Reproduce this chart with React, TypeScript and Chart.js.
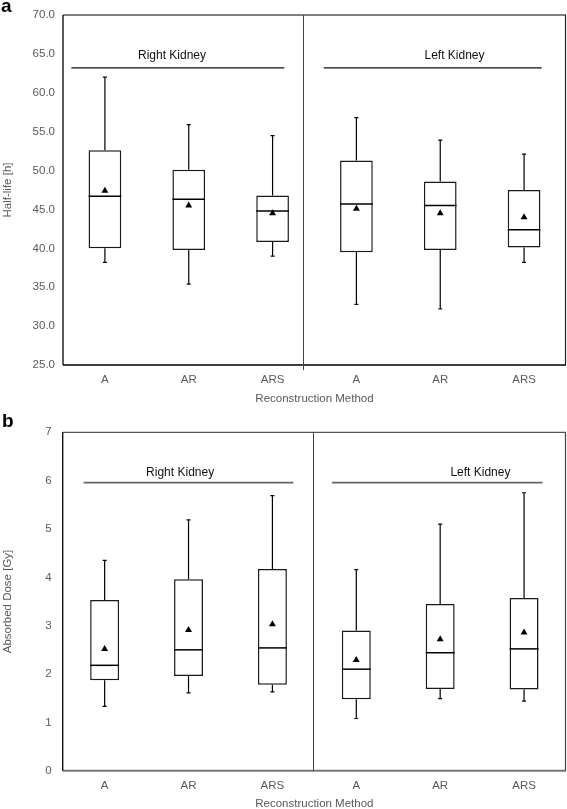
import React, { useEffect, useRef } from 'react';
import { Chart, registerables } from 'chart.js';

Chart.register(...registerables);

// ---------- data ----------
const methods = ['A', 'AR', 'ARS', 'A', 'AR', 'ARS'];
const groupNames = ['Right Kidney', 'Left Kidney'];
const xAxisTitle = 'Reconstruction Method';

// Panel a: Half-life [h]
const halfMin = [38.2, 35.4, 39.0, 32.8, 32.2, 38.2];
const halfQ1 = [40.0, 39.8, 40.8, 39.5, 39.8, 40.1];
const halfMedian = [46.7, 46.3, 44.8, 45.7, 45.5, 42.4];
const halfQ3 = [52.6, 50.1, 46.8, 51.3, 48.6, 47.5];
const halfMax = [62.0, 55.9, 54.5, 56.8, 53.9, 52.1];
const halfMean = [47.4, 45.5, 44.5, 45.1, 44.5, 44.0];

// Panel b: Absorbed Dose [Gy]
const doseMin = [1.33, 1.61, 1.63, 1.08, 1.49, 1.44];
const doseQ1 = [1.87, 1.96, 1.78, 1.48, 1.69, 1.68];
const doseMedian = [2.18, 2.5, 2.54, 2.1, 2.44, 2.52];
const doseQ3 = [3.53, 3.96, 4.17, 2.9, 3.45, 3.57];
const doseMax = [4.35, 5.19, 5.69, 4.16, 5.1, 5.75];
const doseMean = [2.52, 2.91, 3.03, 2.29, 2.72, 2.86];

// ---------- panel configs ----------
const FONT = "'Liberation Sans', Arial, Helvetica, sans-serif";
const GRAY = '#595959';

type Panel = {
  min: number[]; q1: number[]; median: number[]; q3: number[]; max: number[]; mean: number[];
  yMin: number; yMax: number; yStep: number; decimals: number; yTitle: string;
  top: number; height: number; padTop: number; xAxisH: number; yAxisW: number;
  yTickPad: number; xTickPad: number; xTitlePadBottom: number;
  barPct: number;
  groupLineY: number; groupTextY: number; groupSpans: [number, number][]; groupTextX: number[];
  groupLineColor: string; groupLineWidth: number;
  divider: number; dividerExtend: number;
  frame: { top: string; left: string; bottom: string; right: string; topW: number; bottomW: number };
};

const panelA: Panel = {
  min: halfMin, q1: halfQ1, median: halfMedian, q3: halfQ3, max: halfMax, mean: halfMean,
  yMin: 25, yMax: 70, yStep: 5, decimals: 1, yTitle: 'Half-life [h]',
  top: 0, height: 410, padTop: 15, xAxisH: 45, yAxisW: 63,
  yTickPad: 8, xTickPad: 7.5, xTitlePadBottom: 4,
  barPct: 0.39,
  groupLineY: 63.2, groupTextY: 64.8,
  groupSpans: [[-0.4, 2.14], [2.61, 5.21]], groupTextX: [0.8, 4.17],
  groupLineColor: '#111', groupLineWidth: 1.2,
  divider: 2.36, dividerExtend: 5,
  frame: { top: '#808080', left: '#000', bottom: '#000', right: '#222', topW: 2, bottomW: 1.3 },
};

const panelB: Panel = {
  min: doseMin, q1: doseQ1, median: doseMedian, q3: doseQ3, max: doseMax, mean: doseMean,
  yMin: 0, yMax: 7, yStep: 1, decimals: 0, yTitle: 'Absorbed Dose [Gy]',
  top: 410, height: 399, padTop: 22.3, xAxisH: 38.3, yAxisW: 62.7,
  yTickPad: 11, xTickPad: 8.5, xTitlePadBottom: -1.5,
  barPct: 0.345,
  groupLineY: 5.96, groupTextY: 6.16,
  groupSpans: [[-0.25, 2.25], [2.71, 5.22]], groupTextX: [0.9, 4.48],
  groupLineColor: '#666', groupLineWidth: 1.6,
  divider: 2.48, dividerExtend: 0,
  frame: { top: '#555', left: '#000', bottom: '#777', right: '#444', topW: 1.2, bottomW: 2 },
};

function makePlugin(p: Panel) {
  return {
    id: 'boxExtras',
    afterDatasetDraw(chart: any, args: any) {
      if (args.index !== 0) return;
      const { ctx } = chart;
      const xs = chart.scales.x;
      const ys = chart.scales.y;
      const meta = chart.getDatasetMeta(0);
      ctx.save();
      ctx.strokeStyle = '#000';
      p.min.forEach((_, i) => {
        const x = xs.getPixelForValue(i);
        const w = meta.data[i].width;
        const yMin = ys.getPixelForValue(p.min[i]);
        const yQ1 = ys.getPixelForValue(p.q1[i]);
        const yQ3 = ys.getPixelForValue(p.q3[i]);
        const yMax = ys.getPixelForValue(p.max[i]);
        const yMed = ys.getPixelForValue(p.median[i]);
        ctx.lineWidth = 1.2;
        ctx.beginPath();
        ctx.moveTo(x, yQ3); ctx.lineTo(x, yMax);
        ctx.moveTo(x - 2, yMax); ctx.lineTo(x + 2, yMax);
        ctx.moveTo(x, yQ1); ctx.lineTo(x, yMin);
        ctx.moveTo(x - 2, yMin); ctx.lineTo(x + 2, yMin);
        ctx.stroke();
        ctx.lineWidth = 1.5;
        ctx.beginPath();
        ctx.moveTo(x - w / 2, yMed); ctx.lineTo(x + w / 2, yMed);
        ctx.stroke();
      });
      ctx.restore();
    },
    afterDraw(chart: any) {
      const { ctx, chartArea: a } = chart;
      const xs = chart.scales.x;
      const ys = chart.scales.y;
      ctx.save();
      const seg = (x1: number, y1: number, x2: number, y2: number, c: string, w: number) => {
        ctx.beginPath(); ctx.strokeStyle = c; ctx.lineWidth = w;
        ctx.moveTo(x1, y1); ctx.lineTo(x2, y2); ctx.stroke();
      };
      // frame
      seg(a.left, a.top, a.right, a.top, p.frame.top, p.frame.topW);
      seg(a.left, a.bottom, a.right, a.bottom, p.frame.bottom, p.frame.bottomW);
      seg(a.left, a.top, a.left, a.bottom, p.frame.left, 1.3);
      seg(a.right - 0.5, a.top, a.right - 0.5, a.bottom, p.frame.right, 1.2);
      // divider between kidneys
      const dx = Math.round(xs.getPixelForValue(p.divider)) + 0.5;
      seg(dx, a.top, dx, a.bottom + p.dividerExtend, '#444', 1);
      // group labels
      const gy = ys.getPixelForValue(p.groupLineY);
      p.groupSpans.forEach(([s, e]) => {
        seg(xs.getPixelForValue(s), gy, xs.getPixelForValue(e), gy, p.groupLineColor, p.groupLineWidth);
      });
      ctx.fillStyle = '#111';
      ctx.font = `12px ${FONT}`;
      ctx.textAlign = 'center';
      ctx.textBaseline = 'middle';
      const ty = ys.getPixelForValue(p.groupTextY);
      groupNames.forEach((g, i) => ctx.fillText(g, xs.getPixelForValue(p.groupTextX[i]), ty));
      ctx.restore();
    },
  };
}

function BoxChart({ p }: { p: Panel }) {
  const ref = useRef<HTMLCanvasElement>(null);
  useEffect(() => {
    const chart = new Chart(ref.current as HTMLCanvasElement, {
      type: 'bar',
      data: {
        labels: methods,
        datasets: [
          {
            type: 'bar',
            data: p.q1.map((v, i) => [v, p.q3[i]]) as any,
            backgroundColor: '#ffffff',
            borderColor: '#1a1a1a',
            borderWidth: 1.5,
            borderSkipped: false,
            barPercentage: p.barPct,
            categoryPercentage: 1,
            order: 1,
          } as any,
          {
            type: 'line',
            data: p.mean,
            showLine: false,
            pointStyle: 'triangle',
            pointRadius: 4,
            pointBackgroundColor: '#000',
            pointBorderColor: '#000',
            pointBorderWidth: 0,
            order: 0,
          } as any,
        ],
      },
      options: {
        responsive: false,
        animation: false,
        devicePixelRatio: 1,
        layout: { autoPadding: false, padding: { top: p.padTop, right: 1, left: 0, bottom: 0 } },
        plugins: { legend: { display: false }, tooltip: { enabled: false } },
        scales: {
          x: {
            type: 'category',
            offset: true,
            grid: { display: false, drawTicks: false },
            border: { display: false },
            ticks: { color: GRAY, font: { family: FONT, size: 11.5 }, padding: p.xTickPad, maxRotation: 0, autoSkip: false },
            title: {
              display: true, text: xAxisTitle, color: GRAY,
              font: { family: FONT, size: 11.5 }, padding: { top: 0, bottom: p.xTitlePadBottom },
            },
            afterFit: (s: any) => { s.height = p.xAxisH; },
          },
          y: {
            min: p.yMin,
            max: p.yMax,
            grid: { display: false, drawTicks: false },
            border: { display: false },
            ticks: {
              stepSize: p.yStep,
              color: GRAY,
              font: { family: FONT, size: 11.5 },
              padding: p.yTickPad,
              callback: (v: any) => Number(v).toFixed(p.decimals),
            },
            title: {
              display: true, text: p.yTitle, color: GRAY,
              font: { family: FONT, size: 11.5 }, padding: { top: 1.1, bottom: 0 },
            },
            afterFit: (s: any) => { s.width = p.yAxisW; },
          },
        },
      } as any,
      plugins: [makePlugin(p)],
    });
    return () => chart.destroy();
  }, [p]);
  return (
    <canvas
      ref={ref}
      width={567}
      height={p.height}
      style={{ position: 'absolute', left: 0, top: p.top, display: 'block' }}
    />
  );
}

const panelLetter: React.CSSProperties = {
  position: 'absolute',
  fontFamily: FONT,
  fontWeight: 'bold',
  fontSize: 19,
  lineHeight: '19px',
  color: '#000',
  margin: 0,
};

export default function App() {
  useEffect(() => {
    document.body.style.margin = '0';
    document.body.style.background = '#fff';
  }, []);
  return (
    <div style={{ position: 'relative', width: 567, height: 809, background: '#fff', overflow: 'hidden' }}>
      <BoxChart p={panelA} />
      <BoxChart p={panelB} />
      <div style={{ ...panelLetter, left: 1, top: -4 }}>a</div>
      <div style={{ ...panelLetter, left: 2, top: 411 }}>b</div>
    </div>
  );
}
